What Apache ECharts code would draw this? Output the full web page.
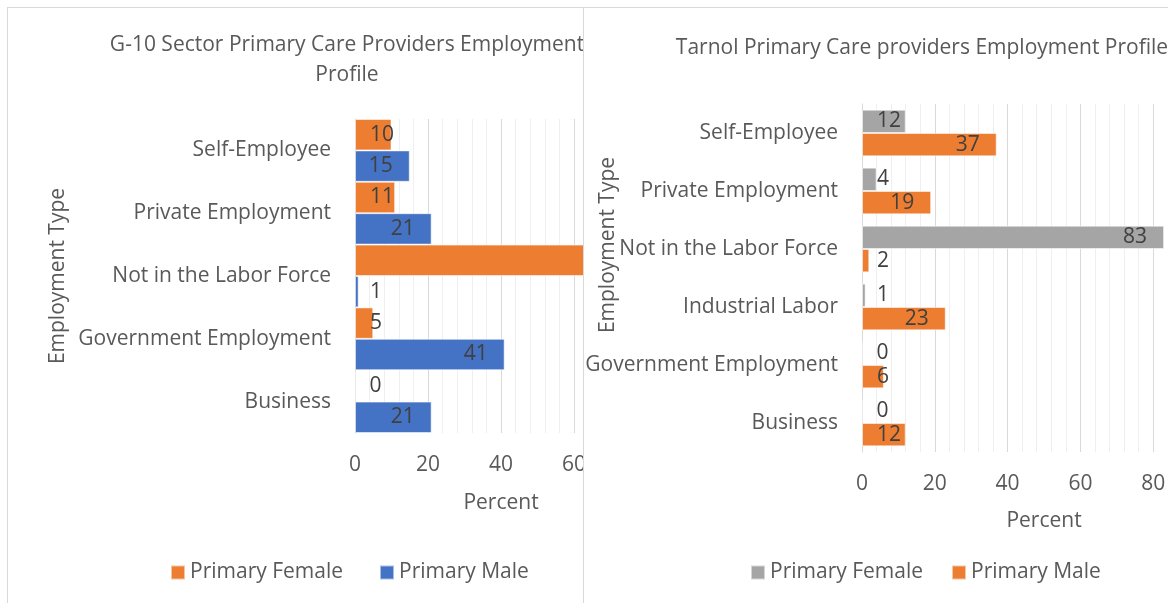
<!DOCTYPE html>
<html>
<head>
<meta charset="utf-8">
<title>Primary Care Providers Employment Profile</title>
<script src="https://cdn.jsdelivr.net/npm/echarts@6/dist/echarts.min.js"></script>
<style>
  html, body { margin: 0; padding: 0; background: #ffffff; width: 1168px; height: 603px; overflow: hidden; position: relative; }
  .frame { position: absolute; overflow: hidden; background: #ffffff; }
  .chart { position: absolute; top: 0; left: 0; }
  .rule { position: absolute; background: #d9d9d9; }
</style>
</head>
<body>
<div class="frame" id="frameG10" style="left:7px; top:7px; width:576px; height:596px;">
  <div class="chart" id="chartG10" style="width:680px; height:596px;"></div>
</div>
<div class="frame" id="frameTarnol" style="left:583px; top:7px; width:585px; height:596px;">
  <div class="chart" id="chartTarnol" style="width:678px; height:596px;"></div>
</div>
<div class="rule" style="left:7px; top:7px; width:1161px; height:1px;"></div>
<div class="rule" style="left:7px; top:7px; width:1px; height:596px;"></div>
<div class="rule" style="left:583px; top:7px; width:1px; height:596px;"></div>
<script>
// G-10 Sector: percent of primary care providers by employment type
const g10Categories = ['Business', 'Government Employment', 'Not in the Labor Force', 'Private Employment', 'Self-Employee'];
const g10Female = [0, 5, 74, 11, 10];
const g10Male = [21, 41, 1, 21, 15];

// Tarnol: percent of primary care providers by employment type
const tarnolCategories = ['Business', 'Government Employment', 'Industrial Labor', 'Not in the Labor Force', 'Private Employment', 'Self-Employee'];
const tarnolFemale = [0, 0, 1, 83, 4, 12];
const tarnolMale = [12, 6, 23, 2, 19, 37];

const seriesNames = ['Primary Female', 'Primary Male'];

const FONT = "'Open Sans', 'Noto Sans', sans-serif";
const TEXT = '#595959';
const ORANGE = '#ED7D31';
const BLUE = '#4472C4';
const GRAY = '#A5A5A5';

// Short bars keep their value label near the base, longer ones put it inside the end
function labelled(values) {
  return values.map(function (v) {
    const inside = v >= 14;
    return {
      value: v,
      label: { position: inside ? 'insideRight' : 'insideLeft', distance: inside ? 17 : 15 }
    };
  });
}

function barSeries(name, values, color, catGap) {
  return {
    name: name,
    type: 'bar',
    data: labelled(values),
    barGap: '0%',
    barCategoryGap: catGap,
    itemStyle: { color: color, borderColor: 'rgba(255,255,255,0.55)', borderWidth: 1 },
    label: {
      show: true,
      color: '#404040',
      fontFamily: FONT,
      fontSize: 21
    },
    emphasis: { disabled: true },
    animation: false
  };
}

function buildOption(cfg) {
  return {
    animation: false,
    textStyle: { fontFamily: FONT },
    title: {
      text: cfg.title,
      left: 'center',
      top: cfg.titleTop,
      textStyle: { fontFamily: FONT, fontSize: 21, fontWeight: 'normal', color: TEXT, lineHeight: 30 }
    },
    legend: {
      data: seriesNames,
      left: cfg.legendLeft,
      top: 550,
      icon: 'rect',
      itemWidth: 14,
      itemHeight: 14,
      itemGap: cfg.legendGap,
      textStyle: { fontFamily: FONT, fontSize: 21, color: TEXT }
    },
    grid: Object.assign({ outerBoundsMode: 'none', containLabel: false }, cfg.grid),
    xAxis: {
      type: 'value',
      min: 0,
      max: cfg.max,
      interval: 20,
      name: 'Percent',
      nameLocation: 'middle',
      nameGap: cfg.xNameGap,
      nameMoveOverlap: false,
      nameTextStyle: { fontFamily: FONT, fontSize: 21, color: TEXT },
      axisLine: { show: false },
      axisTick: { show: false },
      axisLabel: { fontFamily: FONT, fontSize: 21, color: TEXT, margin: cfg.xLabelMargin, showMaxLabel: true },
      splitLine: { show: true, lineStyle: { color: '#d9d9d9', width: 1 } },
      minorTick: { show: false, splitNumber: 5 },
      minorSplitLine: { show: true, lineStyle: { color: '#efefef', width: 1 } }
    },
    yAxis: {
      type: 'category',
      data: cfg.categories,
      name: 'Employment Type',
      nameLocation: 'middle',
      nameRotate: 90,
      nameGap: cfg.yNameGap,
      nameMoveOverlap: false,
      nameTextStyle: { fontFamily: FONT, fontSize: 21, color: TEXT, padding: cfg.yNamePadding },
      axisLine: { show: true, lineStyle: { color: '#d9d9d9', width: 1 } },
      axisTick: { show: false },
      axisLabel: { fontFamily: FONT, fontSize: 21, color: TEXT, margin: 24 },
      splitLine: { show: false }
    },
    series: [
      barSeries(seriesNames[0], cfg.female, cfg.colors[0], cfg.catGap),
      barSeries(seriesNames[1], cfg.male, cfg.colors[1], cfg.catGap)
    ]
  };
}

const g10Chart = echarts.init(document.getElementById('chartG10'), null, { renderer: 'canvas' });
g10Chart.setOption(buildOption({
  title: 'G-10 Sector Primary Care Providers Employment\nProfile',
  titleTop: 18,
  categories: g10Categories,
  female: g10Female,
  male: g10Male,
  colors: [ORANGE, BLUE],
  catGap: '0%',
  max: 80,
  grid: { left: 348, right: 40, top: 112, height: 314 },
  xNameGap: 60,
  xLabelMargin: 22,
  yNameGap: 286,
  yNamePadding: [0, 0, 0, 0],
  legendLeft: 158,
  legendGap: 36
}));

const tarnolChart = echarts.init(document.getElementById('chartTarnol'), null, { renderer: 'canvas' });
tarnolChart.setOption(buildOption({
  title: 'Tarnol Primary Care providers Employment Profile',
  titleTop: 21,
  categories: tarnolCategories,
  female: tarnolFemale,
  male: tarnolMale,
  colors: [GRAY, ORANGE],
  catGap: '19.5%',
  max: 100,
  grid: { left: 279, right: 35, top: 97, height: 348 },
  xNameGap: 59,
  xLabelMargin: 22,
  yNameGap: 243,
  yNamePadding: [0, 0, 0, 66],
  legendLeft: 162,
  legendGap: 28
}));
</script>
</body>
</html>
